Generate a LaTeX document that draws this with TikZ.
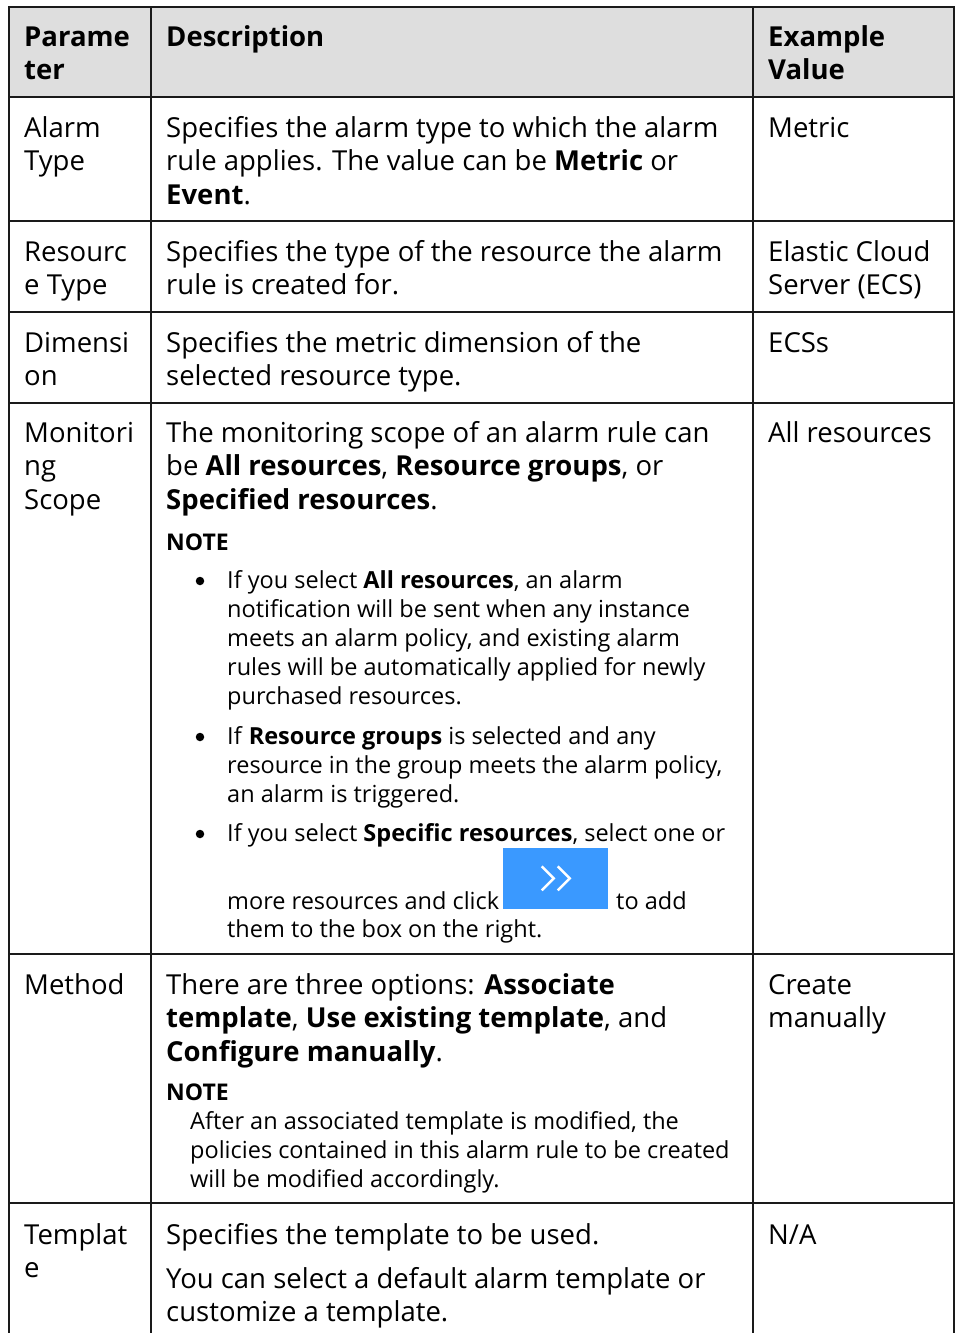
\documentclass[tikz,border=0pt]{standalone}
\usepackage{fontspec}
\setmainfont{Open Sans}
\usetikzlibrary{positioning}
\definecolor{headgray}{HTML}{DEDEDE}
\definecolor{rulegray}{HTML}{1A1A1A}
\definecolor{btnblue}{HTML}{3A99FF}
% lines of a cell, set from the baseline of the first one
\newcommand\celllines[1]{\vtop{\let\\\cr\halign{##\hfil\cr#1\crcr}}}
\tikzset{
cell_text/.style={
	% Placed by the baseline of the first line:
	anchor=base west,
	inner sep=0pt,
	% Font
	font=\fontsize{27.5}{33.5}\selectfont
},
head_text/.style={
	cell_text,
	font=\fontsize{27.5}{33.5}\selectfont\bfseries
},
note_head/.style={
	cell_text,
	font=\fontsize{23}{29}\selectfont\bfseries
},
note_text/.style={
	cell_text,
	font=\fontsize{23.5}{29}\selectfont
},
dot/.style={circle, fill=black, inner sep=0pt, minimum size=8.5pt},
grid_line/.style={line width=2pt, draw=rulegray}
}

\begin{document}
\begin{tikzpicture}[x=1pt, y=-1pt]
			\useasboundingbox (0,0) rectangle (955,1333);

			% header band
			\fill[headgray] (9,7) rectangle (954,97);

			% table rules
			\draw[grid_line] (9,1333) -- (9,7) -- (954,7) -- (954,1333);
			\draw[grid_line] (151,7) -- (151,1333);
			\draw[grid_line] (753,7) -- (753,1333);
			\foreach \y in {97,221,312,403,954,1203}
				\draw[grid_line] (9,\y) -- (954,\y);

			% header
			\node[head_text] (hd_par) at (24,46) {\celllines{Parame\\ter}};
			\node[head_text] (hd_desc) at (166,46) {Description};
			\node[head_text] (hd_val) at (768,46) {\celllines{Example\\Value}};

			% alarm type
			\node[cell_text] (par_type) at (24,137) {\celllines{Alarm\\Type}};
			\node[cell_text] (desc_type) at (166,137) {\celllines{Specifies the alarm type to which the alarm\\rule applies. The value can be \textbf{Metric} or\\\textbf{Event}.}};
			\node[cell_text] (val_type) at (768,137) {Metric};

			% resource type
			\node[cell_text] (par_res) at (24,261) {\celllines{Resourc\\e Type}};
			\node[cell_text] (desc_res) at (166,261) {\celllines{Specifies the type of the resource the alarm\\rule is created for.}};
			\node[cell_text] (val_res) at (768,261) {\celllines{Elastic Cloud\\Server (ECS)}};

			% dimension
			\node[cell_text] (par_dim) at (24,352) {\celllines{Dimensi\\on}};
			\node[cell_text] (desc_dim) at (166,352) {\celllines{Specifies the metric dimension of the\\selected resource type.}};
			\node[cell_text] (val_dim) at (768,352) {ECSs};

			% monitoring scope
			\node[cell_text] (par_scope) at (24,442) {\celllines{Monitori\\ng\\Scope}};
			\node[cell_text] (desc_scope) at (166,442) {\celllines{The monitoring scope of an alarm rule can\\be \textbf{All resources}, \textbf{Resource groups}, or\\\textbf{Specified resources}.}};
			\node[cell_text] (val_scope) at (768,442) {All resources};
			\node[note_head] (note_scope) at (166,550) {NOTE};

			\node[dot] (bul_a) at (200,581) {};
			\node[note_text] (item_a) at (227,588) {\celllines{If you select \textbf{All resources}, an alarm\\notification will be sent when any instance\\meets an alarm policy, and existing alarm\\rules will be automatically applied for newly\\purchased resources.}};
			\node[dot] (bul_b) at (200,737) {};
			\node[note_text] (item_b) at (227,744) {\celllines{If \textbf{Resource groups} is selected and any\\resource in the group meets the alarm policy,\\an alarm is triggered.}};
			\node[dot] (bul_c) at (200,834) {};
			\node[note_text] (item_c) at (227,841) {If you select \textbf{Specific resources}, select one or};
			\node[note_text] (item_c2) at (227,909) {more resources and click};
			\node[fill=btnblue, minimum width=105pt, minimum height=61pt, inner sep=0pt,
				anchor=south west] (btn_add) at (503,909) {};
			% the double chevron on the button
			\draw[white, line width=2.5pt, line join=miter]
				([xshift=-14pt,yshift=12pt]btn_add.center) -- ([xshift=-2pt]btn_add.center) -- ([xshift=-14pt,yshift=-12pt]btn_add.center)
				([xshift=2pt,yshift=12pt]btn_add.center) -- ([xshift=14pt]btn_add.center) -- ([xshift=2pt,yshift=-12pt]btn_add.center);
			\node[note_text] (item_c3) at (616,909) {to add};
			\node[note_text] (item_c4) at (227,937) {them to the box on the right.};

			% method
			\node[cell_text] (par_meth) at (24,994) {Method};
			\node[cell_text] (desc_meth) at (166,994) {\celllines{There are three options: \textbf{Associate}\\\textbf{template}, \textbf{Use existing template}, and\\\textbf{Configure manually}.}};
			\node[cell_text] (val_meth) at (768,994) {\celllines{Create\\manually}};
			\node[note_head] (note_meth) at (166,1100) {NOTE};
			\node[note_text] (item_meth) at (190,1129) {\celllines{After an associated template is modified, the\\policies contained in this alarm rule to be created\\will be modified accordingly.}};

			% template
			\node[cell_text] (par_tpl) at (24,1244) {\celllines{Templat\\e}};
			\node[cell_text] (desc_tpl) at (166,1244) {Specifies the template to be used.};
			\node[cell_text] (desc_tpl2) at (166,1288) {\celllines{You can select a default alarm template or\\customize a template.}};
			\node[cell_text] (val_tpl) at (768,1244) {N/A};
		\end{tikzpicture}
\end{document}
